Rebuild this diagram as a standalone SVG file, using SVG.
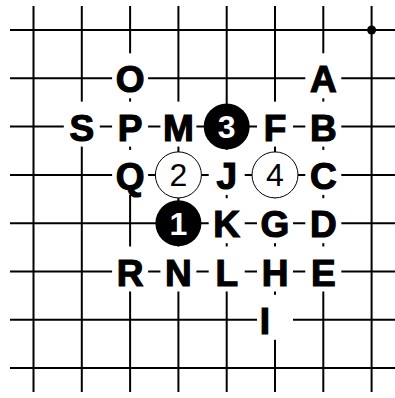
<svg xmlns="http://www.w3.org/2000/svg" width="395" height="398" viewBox="0 0 395 398">
<style>
.g line{stroke:#000;stroke-width:2}
.bk{fill:#fff}
.lt{font-family:"Liberation Sans",Arial,sans-serif;font-weight:bold;font-size:37px;fill:#000;stroke:#000;stroke-width:1.2;text-anchor:middle}
.ws{fill:#fff;stroke:#000;stroke-width:1}
.bs{fill:#000}
.wn{font-family:"Liberation Sans",Arial,sans-serif;font-size:32px;fill:#000;text-anchor:middle}
.bn{font-family:"Liberation Sans",Arial,sans-serif;font-weight:bold;font-size:32px;fill:#fff;text-anchor:middle}
</style>
<rect width="395" height="398" fill="#fff"/>
<g id="grid" class="g">
<line x1="10" y1="30" x2="395" y2="30"/>
<line x1="10" y1="78.3" x2="395" y2="78.3"/>
<line x1="10" y1="126.6" x2="395" y2="126.6"/>
<line x1="10" y1="174.9" x2="395" y2="174.9"/>
<line x1="10" y1="223.2" x2="395" y2="223.2"/>
<line x1="10" y1="271.5" x2="395" y2="271.5"/>
<line x1="10" y1="319.8" x2="395" y2="319.8"/>
<line x1="10" y1="368.1" x2="395" y2="368.1"/>
<line x1="33.5" y1="6" x2="33.5" y2="392"/>
<line x1="81.8" y1="6" x2="81.8" y2="392"/>
<line x1="130.1" y1="6" x2="130.1" y2="392"/>
<line x1="178.4" y1="6" x2="178.4" y2="392"/>
<line x1="226.7" y1="6" x2="226.7" y2="392"/>
<line x1="275" y1="6" x2="275" y2="392"/>
<line x1="323.3" y1="6" x2="323.3" y2="392"/>
<line x1="371.6" y1="6" x2="371.6" y2="392"/>
<circle cx="371.6" cy="30" r="4.5" fill="#000"/>
</g>
<defs>
<rect id="blank" x="-18" y="-25" width="36" height="45" class="bk"/>
</defs>
<g id="labels">
<g id="O" transform="translate(130.1,78.3)"><use href="#blank"/><text class="lt" y="14">O</text></g>
<g id="A" transform="translate(323.3,78.3)"><use href="#blank"/><text class="lt" y="14">A</text></g>
<g id="S" transform="translate(81.8,126.6)"><use href="#blank"/><text class="lt" y="14">S</text></g>
<g id="P" transform="translate(130.1,126.6)"><use href="#blank"/><text class="lt" y="14">P</text></g>
<g id="M" transform="translate(178.4,126.6)"><use href="#blank"/><text class="lt" y="14">M</text></g>
<g id="F" transform="translate(275,126.6)"><use href="#blank"/><text class="lt" y="14">F</text></g>
<g id="B" transform="translate(323.3,126.6)"><use href="#blank"/><text class="lt" y="14">B</text></g>
<g id="Q" transform="translate(130.1,174.9)"><use href="#blank"/><text class="lt" y="14">Q</text></g>
<g id="J" transform="translate(226.7,174.9)"><use href="#blank"/><text class="lt" y="14">J</text></g>
<g id="C" transform="translate(323.3,174.9)"><use href="#blank"/><text class="lt" y="14">C</text></g>
<g id="K" transform="translate(226.7,223.2)"><use href="#blank"/><text class="lt" y="14">K</text></g>
<g id="G" transform="translate(275,223.2)"><use href="#blank"/><text class="lt" y="14">G</text></g>
<g id="D" transform="translate(323.3,223.2)"><use href="#blank"/><text class="lt" y="14">D</text></g>
<g id="R" transform="translate(130.1,271.5)"><use href="#blank"/><text class="lt" y="14">R</text></g>
<g id="N" transform="translate(178.4,271.5)"><use href="#blank"/><text class="lt" y="14">N</text></g>
<g id="L" transform="translate(226.7,271.5)"><use href="#blank"/><text class="lt" y="14">L</text></g>
<g id="H" transform="translate(275,271.5)"><use href="#blank"/><text class="lt" y="14">H</text></g>
<g id="E" transform="translate(323.3,271.5)"><use href="#blank"/><text class="lt" y="14">E</text></g>
<g id="I" transform="translate(275,319.8)"><use href="#blank"/><text class="lt" x="-10" y="14">I</text></g>
</g>
<g id="stones">
<g id="move1" transform="translate(178.4,223.2)"><circle r="23" class="bs"/><text class="bn" y="11.5">1</text></g>
<g id="move2" transform="translate(178.4,174.9)"><circle r="23" class="ws"/><text class="wn" y="11.5">2</text></g>
<g id="move3" transform="translate(226.7,126.6)"><circle r="23" class="bs"/><text class="bn" y="11.5">3</text></g>
<g id="move4" transform="translate(275,174.9)"><circle r="23" class="ws"/><text class="wn" y="11.5">4</text></g>
</g>
</svg>
